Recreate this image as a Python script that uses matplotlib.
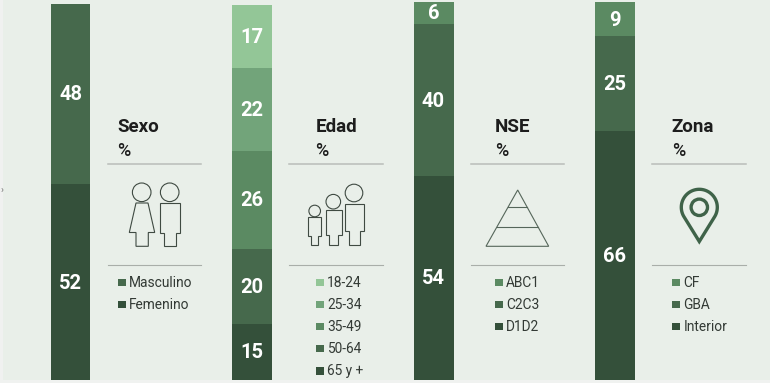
import numpy as np
import matplotlib
matplotlib.use("Agg")
import matplotlib.pyplot as plt
from matplotlib.patches import Circle, Polygon, Rectangle

plt.rcParams['font.family'] = ['Roboto', 'DejaVu Sans']

W, H = 770, 383
BG = '#e9efe9'

# --- data, bottom segment first ---
panels = ['Sexo', 'Edad', 'NSE', 'Zona']
sexo_values = [52, 48]
edad_values = [15, 20, 26, 22, 17]
nse_values = [54, 40, 6]
zona_values = [66, 25, 9]

# legends, top row first
sexo_labels = ['Masculino', 'Femenino']
edad_labels = ['18-24', '25-34', '35-49', '50-64', '65 y +']
nse_labels = ['ABC1', 'C2C3', 'D1D2']
zona_labels = ['CF', 'GBA', 'Interior']

# shades, darkest (bottom of the bar) first
shades = ['#34503a', '#46694c', '#5b8a62', '#72a47a', '#93c697']

all_values = [sexo_values, edad_values, nse_values, zona_values]
all_labels = [sexo_labels, edad_labels, nse_labels, zona_labels]

# layout in pixels: bar left/right/top, rule left/right, title x, square x
bar_boxes = [(51, 90, 3.5), (232, 272, 4.5), (413.5, 453.5, 1.5), (595, 635, 2)]
rule_spans = [(108, 201), (289.3, 382.7), (470.7, 564), (652.3, 745.7)]
title_xs = [117.3, 315.3, 494.8, 671.8]
square_xs = [118, 315.7, 495, 672.3]
BAR_BOTTOM = 380

fig = plt.figure(figsize=(W / 100, H / 100), dpi=100, facecolor=BG)

# pixel canvas for rules, icons, texts
bg = fig.add_axes([0, 0, 1, 1])
bg.axis('off')
bg.add_patch(Rectangle((0, 0), 3, H, fc='#f0f1f0', ec='none'))
bg.add_patch(Rectangle((0, 380), W, 3, fc='#f0f2f0', ec='none'))
bg.text(0.3, 189.5, '›', color='#777777', fontsize=7, ha='left', va='center')

# --- stacked bars ---
for values, (x0, x1, top) in zip(all_values, bar_boxes):
    ax = fig.add_axes([x0 / W, 1 - BAR_BOTTOM / H, (x1 - x0) / W, (BAR_BOTTOM - top) / H])
    ax.set_xlim(-0.5, 0.5)
    ax.set_ylim(0, sum(values))
    ax.axis('off')
    bottom = 0
    for i, v in enumerate(values):
        bars = ax.bar(0, v, width=1, bottom=bottom, color=shades[i])
        ann = ax.bar_label(bars, labels=[str(v)], label_type='center', color='white',
                           fontsize=14.5, fontweight='bold')[0]
        ann.xyann = (0, -0.8)
        bottom += v

# --- titles, rules, legends ---
for i, name in enumerate(panels):
    bg.text(title_xs[i], 126.5, name, fontsize=13.5, fontweight='bold', color='#1d1d1d',
            ha='left', va='center')
    bg.text(title_xs[i], 150.5, '%', fontsize=13, fontweight='medium', color='#1d1d1d',
            ha='left', va='center')
    r0, r1 = rule_spans[i]
    bg.plot([r0, r1], [164, 164], color='#b9bdb9', lw=1.1)
    bg.plot([r0, r1], [265.3, 265.3], color='#a9aea9', lw=0.8)

    labels = all_labels[i]
    n = len(labels)
    for j, lab in enumerate(labels):
        y = 282.3 + 22.1 * j
        bg.add_patch(Rectangle((square_xs[i], y - 3.8), 7.8, 7.6, fc=shades[n - 1 - j], ec='none'))
        bg.text(square_xs[i] + 11.3, y + 0.7, lab, fontsize=9.9, color='#333a35', ha='left',
                va='center')


# --- icons ---
INK = '#3f4a42'


def person(cx, cy, r, body, legs, y_body, y_hip, y_foot):
    bg.add_patch(Circle((cx, cy), r, fc='none', ec=INK, lw=0.8))
    pts = [(body[0], y_body), (body[1], y_body), (body[1], y_hip), (legs[1], y_hip),
           (legs[1], y_foot), (legs[0], y_foot), (legs[0], y_hip), (body[0], y_hip)]
    bg.add_patch(Polygon(pts, closed=True, fc='none', ec=INK, lw=0.8))


# woman
bg.add_patch(Circle((141.7, 192.3), 9.3, fc='none', ec=INK, lw=0.8))
bg.add_patch(Polygon([(136, 203), (148, 203), (154.7, 232.5), (148.3, 232.5), (148.3, 246.3),
                      (136, 246.3), (136, 232.5), (129.3, 232.5)],
                     closed=True, fc='none', ec=INK, lw=0.8))
# man
person(169.7, 192.3, 9.3, (159.7, 179.7), (164, 175.7), 203, 232.5, 246.3)
# family
person(314.7, 211, 5.8, (308.3, 321), (310.7, 318.3), 217.3, 236, 245)
person(333.3, 201.7, 7.3, (325.7, 341.7), (329, 338.3), 210.3, 234.7, 245)
person(354, 193, 8.8, (345, 363.7), (349.3, 359.7), 203.7, 231.3, 245)

# pyramid
bg.add_patch(Polygon([(517.7, 190), (548.7, 246.3), (486, 246.3)], closed=True, fc='none',
                     ec='#55665a', lw=0.8))
bg.plot([508.2, 527.2], [207.3, 207.3], color='#55665a', lw=0.8)
bg.plot([497.2, 538.2], [227.3, 227.3], color='#55665a', lw=0.8)

# map pin: arc over the top, closed by the two tangents down to the tip
PIN = '#3f6349'
pin_x, pin_y, pin_r, pin_tip = 699.3, 207.3, 18, 241.5
a = np.arccos(pin_r / (pin_tip - pin_y))
t = np.linspace(a, 2 * np.pi - a, 80)
outline = np.column_stack([pin_x + pin_r * np.sin(t), pin_y + pin_r * np.cos(t)])
outline = np.vstack([outline, [pin_x, pin_tip]])
bg.add_patch(Polygon(outline, closed=True, fc='none', ec=PIN, lw=2.4, joinstyle='miter'))
bg.add_patch(Circle((pin_x, pin_y), 8.2, fc='none', ec=PIN, lw=2.4))

bg.set_xlim(0, W)
bg.set_ylim(H, 0)

fig.savefig('out.png', dpi=100, facecolor=BG)
